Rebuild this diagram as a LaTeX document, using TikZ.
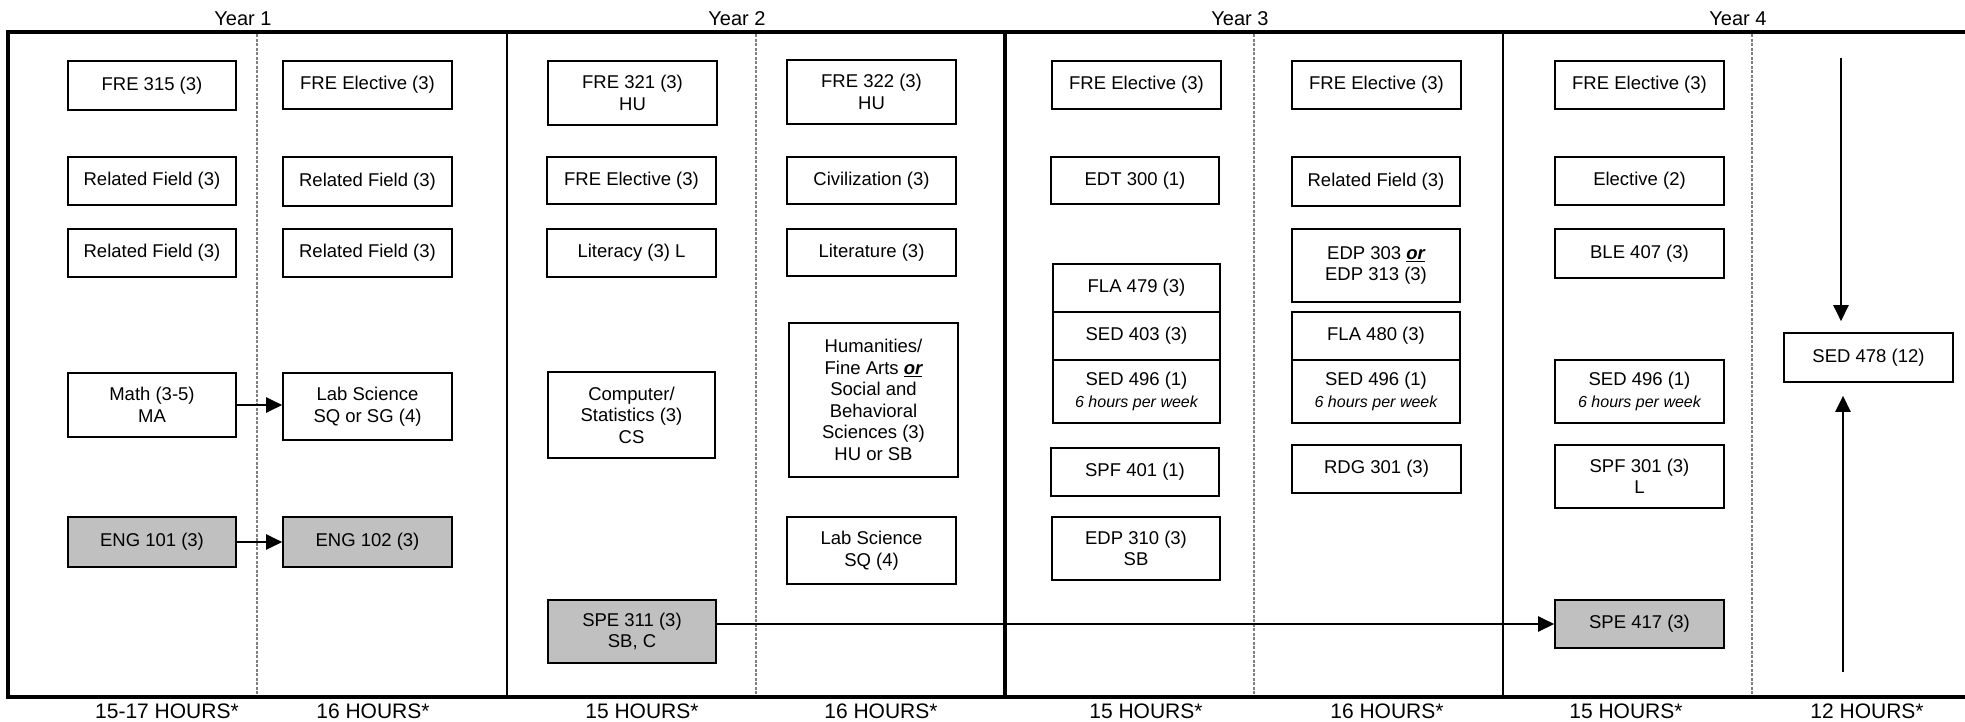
\documentclass[tikz,border=0pt]{standalone}
\usepackage{fontspec}
\setmainfont{Liberation Sans}
\usetikzlibrary{arrows.meta}
\definecolor{boxgray}{HTML}{C0C0C0}
\newcommand\cbox[7][]{\node[cbx,#1,minimum width={(#5-#3)*1pt},minimum height={(#6-#4)*1pt}] (#2) at ({(#3+#5)/2},{(#4+#6)/2}) {#7};}
\newcommand\orword{\textbf{\textit{\underline{or}}}}
\newcommand\sixh{{\fontsize{16}{20}\selectfont\itshape 6 hours per week}}
\begin{document}
\begin{tikzpicture}[x=1pt,y=-1pt,line join=miter,
  cbx/.style={draw,line width=1.6pt,inner sep=0pt,align=center,font=\fontsize{18.5}{21.5}\selectfont},
  shaded/.style={fill=boxgray},
  yr/.style={font=\fontsize{20}{24}\selectfont,anchor=base,inner sep=0pt},
  hr/.style={font=\fontsize{21}{25}\selectfont,anchor=base,inner sep=0pt},
  sep/.style={draw=gray,line width=1.2pt,dash pattern=on 3pt off 1.5pt},
  arr/.style={line width=2.2pt,-{Triangle[length=16pt,width=15pt]}}]
\useasboundingbox (0,0) rectangle (1965,721);
% separators
\foreach \x in {257,756,1254,1752} \draw[sep] (\x,34) -- (\x,695);
\draw[line width=2pt] (507,32) -- (507,697);
\draw[line width=4pt] (1005,32) -- (1005,697);
\draw[line width=2pt] (1503,32) -- (1503,697);
\draw[line width=4pt] (1965,32) -- (8,32) -- (8,697) -- (1965,697);
% year labels
\node[yr] (y1) at (243,25) {Year 1};
\node[yr] (y2) at (737,25) {Year 2};
\node[yr] (y3) at (1240,25) {Year 3};
\node[yr] (y4) at (1738,25) {Year 4};
% hours
\node[hr] (h1) at (167,718) {15-17 HOURS*};
\node[hr] (h2) at (373,718) {16 HOURS*};
\node[hr] (h3) at (642,718) {15 HOURS*};
\node[hr] (h4) at (881,718) {16 HOURS*};
\node[hr] (h5) at (1146,718) {15 HOURS*};
\node[hr] (h6) at (1387,718) {16 HOURS*};
\node[hr] (h7) at (1626,718) {15 HOURS*};
\node[hr] (h8) at (1867,718) {12 HOURS*};
% Year 1
\cbox{a1}{68}{61}{236}{110}{FRE 315 (3)}
\cbox{a2}{68}{157}{236}{205}{Related Field (3)}
\cbox{a3}{68}{229}{236}{277}{Related Field (3)}
\cbox{math}{68}{373}{236}{437}{Math (3-5)\\MA}
\cbox[shaded]{eng101}{68}{517}{236}{567}{ENG 101 (3)}
\cbox{b1}{283}{61}{452}{109}{FRE Elective (3)}
\cbox{b2}{283}{157}{452}{206}{Related Field (3)}
\cbox{b3}{283}{229}{452}{277}{Related Field (3)}
\cbox{lab1}{283}{373}{452}{440}{Lab Science\\SQ or SG (4)}
\cbox[shaded]{eng102}{283}{517}{452}{567}{ENG 102 (3)}
% Year 2
\cbox{c1}{548}{61}{717}{125}{FRE 321 (3)\\HU}
\cbox{c2}{547}{157}{716}{204}{FRE Elective (3)}
\cbox{c3}{547}{229}{716}{277}{Literacy (3) L}
\cbox{comp}{548}{372}{715}{458}{Computer/\\Statistics (3)\\CS}
\cbox[shaded]{spe311}{548}{600}{716}{663}{SPE 311 (3)\\SB, C}
\cbox{d1}{787}{60}{956}{124}{FRE 322 (3)\\HU}
\cbox{d2}{787}{157}{956}{204}{Civilization (3)}
\cbox{d3}{787}{229}{956}{276}{Literature (3)}
\cbox{hum}{789}{323}{958}{477}{Humanities/\\Fine Arts \orword\\Social and\\Behavioral\\Sciences (3)\\HU or SB}
\cbox{lab2}{787}{517}{956}{584}{Lab Science\\SQ (4)}
% Year 3
\cbox{e1}{1052}{61}{1221}{109}{FRE Elective (3)}
\cbox{e2}{1051}{157}{1219}{204}{EDT 300 (1)}
\cbox{fla479}{1053}{264}{1220}{312}{FLA 479 (3)}
\cbox{sed403}{1053}{312}{1220}{360}{SED 403 (3)}
\cbox{sed496a}{1053}{360}{1220}{423}{SED 496 (1)\\\sixh}
\cbox{spf401}{1051}{448}{1219}{496}{SPF 401 (1)}
\cbox{edp310}{1052}{517}{1220}{580}{EDP 310 (3)\\SB}
\cbox{f1}{1292}{61}{1461}{109}{FRE Elective (3)}
\cbox{f2}{1292}{157}{1460}{206}{Related Field (3)}
\cbox{edp303}{1292}{229}{1460}{302}{EDP 303 \orword\\EDP 313 (3)}
\cbox{fla480}{1292}{312}{1460}{360}{FLA 480 (3)}
\cbox{sed496b}{1292}{360}{1460}{423}{SED 496 (1)\\\sixh}
\cbox{rdg}{1292}{445}{1461}{493}{RDG 301 (3)}
% Year 4
\cbox{g1}{1555}{61}{1724}{109}{FRE Elective (3)}
\cbox{g2}{1555}{157}{1724}{205}{Elective (2)}
\cbox{ble}{1555}{229}{1724}{278}{BLE 407 (3)}
\cbox{sed496c}{1555}{360}{1724}{423}{SED 496 (1)\\\sixh}
\cbox{spf301}{1555}{445}{1724}{508}{SPF 301 (3)\\L}
\cbox[shaded]{spe417}{1555}{600}{1724}{648}{SPE 417 (3)}
\cbox{sed478}{1784}{333}{1953}{382}{SED 478 (12)}
% arrows
\draw[arr] (math.east) -- (math.east -| lab1.west);
\draw[arr] (eng101.east) -- (eng102.west);
\draw[arr] (spe311.east |- spe417.west) -- (spe417.west);
\coordinate (dtop) at (1841,58);
\draw[arr,shorten >=11pt] (dtop) -- (dtop |- sed478.north);
\coordinate (ubot) at (1843,672);
\draw[arr,shorten >=13pt] (ubot) -- (ubot |- sed478.south);
\end{tikzpicture}
\end{document}
